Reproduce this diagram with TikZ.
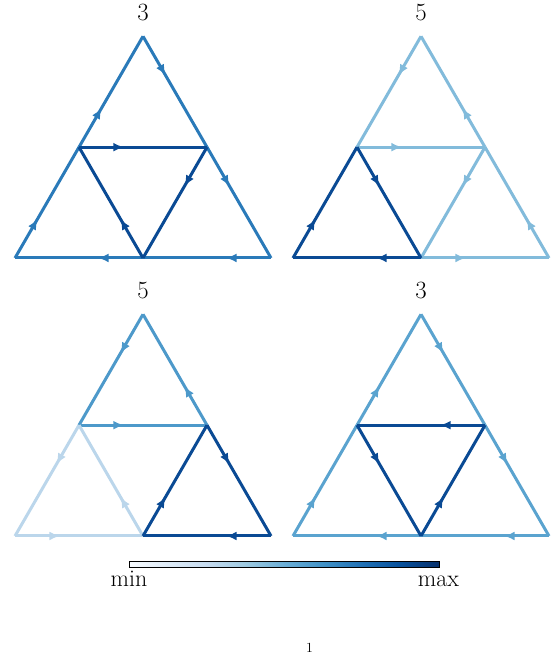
\documentclass[tikz,border=0pt]{standalone}
\usepackage{tikz}
\usetikzlibrary{arrows.meta,decorations.markings}

% Blues colormap
\definecolor{bl0}{HTML}{F7FBFF}
\definecolor{bl1}{HTML}{DEEBF7}
\definecolor{bl2}{HTML}{C6DBEF}
\definecolor{bl3}{HTML}{9ECAE1}
\definecolor{bl4}{HTML}{6BAED6}
\definecolor{bl5}{HTML}{4292C6}
\definecolor{bl6}{HTML}{2171B5}
\definecolor{bl7}{HTML}{08519C}
\definecolor{bl8}{HTML}{08306B}
\pgfdeclarehorizontalshading{blues}{100bp}{color(0bp)=(bl0); color(25bp)=(bl0);
  color(31.25bp)=(bl1); color(37.5bp)=(bl2); color(43.75bp)=(bl3); color(50bp)=(bl4);
  color(56.25bp)=(bl5); color(62.5bp)=(bl6); color(68.75bp)=(bl7); color(75bp)=(bl8);
  color(100bp)=(bl8)}

% edge colours
\definecolor{dk}{HTML}{0A4A94}
\definecolor{ma}{HTML}{2A7AB9}
\definecolor{lt}{HTML}{82BBDB}
\definecolor{mb}{HTML}{4D99CA}
\definecolor{vl}{HTML}{BBD6EB}
\definecolor{mc}{HTML}{5AA3CF}

\begin{document}
\begin{tikzpicture}[x=1bp,y=1bp,
    flow/.style={line width=3bp,postaction={decorate},
      decoration={markings,mark=at position 0.35 with {\arrow{Latex[length=10.5bp,width=9bp]}}}},
    title/.style={font=\fontsize{27}{30}\selectfont},
    cbar/.style={draw,line width=0.7bp,shading=blues,minimum width=310bp,minimum height=6bp,inner sep=0pt},
    tick/.style={anchor=base,font=\fontsize{24}{27}\selectfont}]
  \useasboundingbox (0,0) rectangle (559,654);

  \foreach \k/\ox/\oy/\lab/\edges in {
    1/15/396/3/{L/P/ma,P/A/ma,A/Q/ma,Q/R/ma,R/M/ma,M/L/ma,P/Q/dk,Q/M/dk,M/P/dk},
    2/293/396/5/{A/P/lt,Q/A/lt,R/Q/lt,M/R/lt,P/Q/lt,Q/M/lt,L/P/dk,P/M/dk,M/L/dk},
    3/15/118/5/{A/P/mb,Q/A/mb,P/Q/mb,P/L/vl,L/M/vl,M/P/vl,M/Q/dk,Q/R/dk,R/M/dk},
    4/293/118/3/{L/P/mc,P/A/mc,A/Q/mc,Q/R/mc,R/M/mc,M/L/mc,Q/P/dk,P/M/dk,M/Q/dk}}
  {
    \begin{scope}[shift={(\ox,\oy)}]
      \coordinate (L\k) at (0,0);
      \coordinate (M\k) at (128,0);
      \coordinate (R\k) at (256,0);
      \coordinate (P\k) at (64,110.85);
      \coordinate (Q\k) at (192,110.85);
      \coordinate (A\k) at (128,221.7);
      \node[title] (t\k) at (128,245.2) {$\lab$};
    \end{scope}
    \foreach \a/\b/\c in \edges
      \draw[flow,\c] (\a\k) -- (\b\k);
  }

  \node[cbar] (bar) at (284.3,89.3) {};
  \node[tick] (lo) at (129,67) {min};
  \node[tick] (hi) at (438.5,67) {max};

  \node[anchor=base,font=\fontsize{14}{16}\selectfont] (page) at (309.5,1.5) {1};
\end{tikzpicture}
\end{document}
